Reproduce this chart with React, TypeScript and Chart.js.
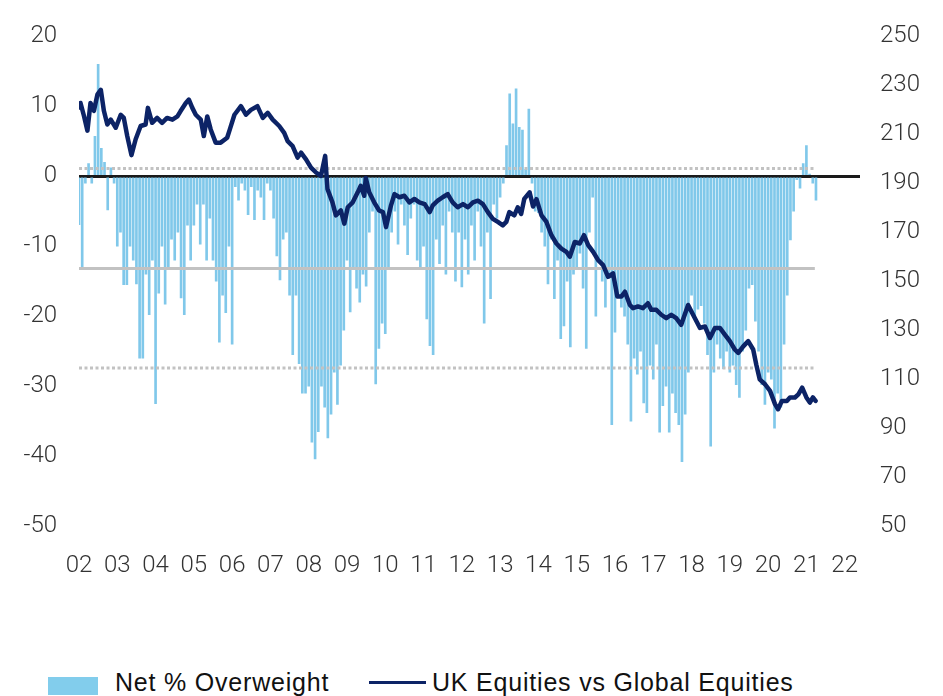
import React, { useEffect, useRef } from 'react';
import { Chart, registerables } from 'chart.js';

Chart.register(...registerables);

// ---------- Data ----------
const START_YEAR = 2002; // first monthly observation: Jan 2002
const yearLabels = ['02', '03', '04', '05', '06', '07', '08', '09', '10', '11', '12', '13', '14', '15', '16', '17', '18', '19', '20', '21', '22'];
const leftTicks = [20, 10, 0, -10, -20, -30, -40, -50];
const rightTicks = [250, 230, 210, 190, 170, 150, 130, 110, 90, 70, 50];

// Net % Overweight (monthly)
const net2002 = [-6.9, -13.3, -1, 1.8, -1, 5.7, 16, 4, 2, -4.8, 1.2, -1];
const net2003 = [-10, -8, -15.5, -15.5, -10, -12, -15.4, -26, -26, -14, -19.8, -12];
const net2004 = [-32.5, -16.7, -10, -18.3, -13, -9, -12, -8, -17.4, -19.8, -7, -12];
const net2005 = [-7, -4, -9.7, -4, -12, -6, -12, -15, -23.7, -17, -19.5, -10];
const net2006 = [-24, -1.5, -3.4, -1, -2, -5.5, -1.5, -6.2, -2, -3, -6.2, -1];
const net2007 = [-2, -6, -11.4, -14.8, -9, -8, -17, -25.5, -17, -26.8, -31, -31];
const net2008 = [-30, -38, -40.4, -36.5, -30, -33, -37.4, -34, -28, -32.6, -27, -22];
const net2009 = [-12, -19.4, -13, -16, -18, -14, -15.7, -8, -5, -29.7, -24.6, -21];
const net2010 = [-22.5, -13, -8, -5, -9.7, -4, -7, -11.2, -6, -4, -12, -13.3];
const net2011 = [-10, -20.4, -24.2, -25.5, -9, -12.5, -7, -14, -5, -8, -15, -8];
const net2012 = [-15.8, -9, -14, -7, -12, -5, -10, -21, -8, -17.5, -4, -6];
const net2013 = [-3, -1, 4.4, 11.8, 7.5, 12.5, 7, 6.6, 1, 9.6, -1, -5];
const net2014 = [-5.2, -8, -10, -15.4, -9, -17.5, -12, -23.2, -21.4, -15, -24.4, -14];
const net2015 = [-13, -11, -16, -24.6, -8, -3, -20, -12, -15, -18.7, -14, -35.5];
const net2016 = [-22.3, -17, -18.7, -20, -24, -35, -26, -28.3, -25, -32.4, -33.8, -27];
const net2017 = [-29, -24, -36.6, -32.8, -30, -36.6, -31, -33.8, -35.5, -40.8, -34, -28];
const net2018 = [-17, -20, -19, -18.5, -21, -25.5, -38.6, -28, -24, -26, -27.5, -25];
const net2019 = [-28, -27, -29.8, -31.6, -25, -22, -16, -15.5, -20.7, -25, -29.8, -32.6];
const net2020 = [-28, -29, -36, -31, -33, -24, -17, -9.1, -5, -0.5, -1.7, 1.8];
const net2021 = [4.4, 0.3, -1, -3.4];

// Reference lines on the Net % Overweight axis (average and +/- 1 s.d.)
const avgLevel = -13.2;
const upperBand = 1.1;
const lowerBand = -27.4;
const bandStart = 2002.0;
const bandEnd = 2021.22;

// UK Equities vs Global Equities: [year, index]
const uk2002to2005: [number, number][] = [
  [2002.0, 221], [2002.04, 222.8], [2002.13, 217.5], [2002.22, 211.5], [2002.3, 222.8], [2002.39, 219.6],
  [2002.48, 226.2], [2002.57, 228.2], [2002.65, 219.6], [2002.74, 214], [2002.83, 216], [2002.96, 212.7],
  [2003.09, 218], [2003.17, 216.7], [2003.26, 209.3], [2003.37, 201.5], [2003.48, 208], [2003.61, 213.4],
  [2003.74, 214], [2003.8, 220.8], [2003.91, 214.7], [2004.04, 216.7], [2004.17, 214.7], [2004.3, 216.7],
  [2004.44, 216], [2004.57, 217.3], [2004.65, 219.4], [2004.79, 222.8], [2004.87, 224.2], [2004.96, 220.8],
  [2005.05, 218], [2005.18, 216], [2005.26, 209.3], [2005.35, 217.3], [2005.44, 212], [2005.57, 206.6],
  [2005.7, 206.6], [2005.87, 208.6],
];
const uk2006to2009: [number, number][] = [
  [2005.94, 212], [2006.06, 218], [2006.23, 221.5], [2006.36, 218], [2006.49, 220], [2006.66, 221.5],
  [2006.8, 216.7], [2006.93, 218.8], [2007.06, 216], [2007.23, 213.4], [2007.36, 210.6], [2007.45, 207.2],
  [2007.58, 205.2], [2007.71, 200.5], [2007.8, 202.5], [2007.93, 199.8], [2008.06, 196.4], [2008.19, 194.4],
  [2008.32, 193], [2008.43, 201.2], [2008.49, 187.7], [2008.62, 182.2], [2008.71, 176.9], [2008.84, 178.9],
  [2008.93, 173.5], [2009.02, 180.2], [2009.15, 182.2], [2009.28, 186.3], [2009.36, 189], [2009.45, 184.9],
  [2009.49, 192.2], [2009.58, 186.3], [2009.71, 182.2], [2009.84, 178.9],
];
const uk2010to2013: [number, number][] = [
  [2009.94, 178.2], [2010.02, 172.1], [2010.15, 181], [2010.24, 185.6], [2010.37, 184.3], [2010.5, 184.9],
  [2010.63, 182.2], [2010.76, 183.6], [2010.89, 182.2], [2011.03, 181.5], [2011.16, 178.2], [2011.24, 181],
  [2011.37, 182.9], [2011.5, 184.3], [2011.63, 185.6], [2011.76, 182.2], [2011.89, 180.2], [2012.03, 181.5],
  [2012.16, 180.2], [2012.29, 182.2], [2012.42, 182.9], [2012.55, 181.5], [2012.68, 178.2], [2012.81, 175.5],
  [2012.94, 174.2], [2013.07, 172.8], [2013.16, 174.2], [2013.24, 178.2], [2013.37, 176.9], [2013.46, 180.2],
  [2013.55, 177.5], [2013.63, 183.6], [2013.77, 186.3], [2013.86, 180.5], [2013.95, 183.5],
];
const uk2014to2017: [number, number][] = [
  [2014.08, 176.9], [2014.21, 174.2], [2014.34, 168.8], [2014.47, 165.4], [2014.6, 163.3], [2014.73, 162],
  [2014.82, 160], [2014.95, 166], [2015.08, 165.4], [2015.19, 168.8], [2015.3, 164.7], [2015.43, 162],
  [2015.56, 158.6], [2015.69, 156.6], [2015.82, 151.8], [2015.95, 153.2], [2016.06, 143.8], [2016.17, 143.8],
  [2016.26, 145.7], [2016.39, 140.3], [2016.47, 139], [2016.6, 139.7], [2016.73, 139], [2016.86, 141],
  [2016.95, 138.3], [2017.08, 138.3], [2017.21, 136.3], [2017.34, 134.9], [2017.47, 136.3], [2017.6, 134.9],
  [2017.73, 132.2],
];
const uk2018to2021: [number, number][] = [
  [2017.91, 140.3], [2018.04, 136.3], [2018.22, 130.9], [2018.35, 131.5], [2018.48, 126.8], [2018.61, 130.9],
  [2018.74, 130.9], [2018.87, 128.2], [2019.0, 125.5], [2019.13, 122.1], [2019.22, 120.7], [2019.35, 123.4],
  [2019.48, 125.5], [2019.61, 122.1], [2019.69, 116], [2019.78, 109.9], [2019.92, 107.9], [2020.05, 105.2],
  [2020.18, 99.8], [2020.26, 97.7], [2020.36, 101.1], [2020.49, 101.1], [2020.57, 102.5], [2020.7, 102.5],
  [2020.79, 103.8], [2020.89, 106.5], [2021.0, 102.5], [2021.09, 100.4], [2021.17, 102.5], [2021.24, 101.1],
];

// ---------- Styles ----------
const SKY = '#80c8ea';
const SKY_LEGEND = '#82cdec';
const NAVY = '#0c2366';
const GREY = '#c2c2c2';
const TICK_FONT = "'Liberation Sans Narrow', 'Roboto', 'DejaVu Sans Condensed', sans-serif";
const LEGEND_FONT = "'Liberation Sans', Arial, sans-serif";

export default function App() {
  const ref = useRef<HTMLCanvasElement>(null);

  useEffect(() => {
    const netMonthly = [
      ...net2002, ...net2003, ...net2004, ...net2005, ...net2006, ...net2007, ...net2008,
      ...net2009, ...net2010, ...net2011, ...net2012, ...net2013, ...net2014, ...net2015,
      ...net2016, ...net2017, ...net2018, ...net2019, ...net2020, ...net2021,
    ];
    const barData = netMonthly.map((v, i) => ({ x: START_YEAR + i / 12, y: v }));
    const ukLine = [...uk2002to2005, ...uk2006to2009, ...uk2010to2013, ...uk2014to2017, ...uk2018to2021];
    const lineData = ukLine.map(([x, y]) => ({ x, y }));
    const hLine = (lvl: number) => [{ x: bandStart, y: lvl }, { x: bandEnd, y: lvl }];

    const tickFont = { family: TICK_FONT, size: 24, weight: 300 as any };

    const chart = new Chart(ref.current as HTMLCanvasElement, {
      type: 'bar',
      data: {
        datasets: [
          {
            type: 'line', label: 'UK Equities vs Global Equities', data: lineData, yAxisID: 'yR',
            borderColor: NAVY, borderWidth: 4.5, pointRadius: 0, tension: 0, order: 0,
            borderJoinStyle: 'round', borderCapStyle: 'round',
          } as any,
          {
            type: 'line', label: 'Average', data: hLine(avgLevel), yAxisID: 'y',
            borderColor: GREY, borderWidth: 3, pointRadius: 0, order: 1,
          } as any,
          {
            type: 'line', label: '+1sd', data: hLine(upperBand), yAxisID: 'y',
            borderColor: GREY, borderWidth: 3, borderDash: [3, 2.5], pointRadius: 0, order: 1,
          } as any,
          {
            type: 'line', label: '-1sd', data: hLine(lowerBand), yAxisID: 'y',
            borderColor: GREY, borderWidth: 3, borderDash: [3, 2.5], pointRadius: 0, order: 1,
          } as any,
          {
            type: 'bar', label: 'Net % Overweight', data: barData, yAxisID: 'y',
            backgroundColor: SKY, barThickness: 2, order: 2,
          } as any,
        ],
      },
      options: {
        responsive: false,
        animation: false,
        layout: { padding: { top: 33, bottom: 14, left: 0, right: 0 } },
        plugins: { legend: { display: false }, tooltip: { enabled: false } },
        scales: {
          x: {
            type: 'linear', min: 2002, max: 2022.4, offset: false,
            grid: { display: false }, border: { display: false },
            ticks: {
              stepSize: 1, includeBounds: false, autoSkip: false, maxRotation: 0, minRotation: 0,
              padding: 18, font: tickFont, color: '#333',
              callback: (v: any) => {
                const idx = Math.round(Number(v)) - START_YEAR;
                return Math.abs(Number(v) - Math.round(Number(v))) < 1e-6 && yearLabels[idx] ? yearLabels[idx] : '';
              },
            },
            afterFit: (s: any) => { s.height = 60; },
          },
          y: {
            type: 'linear', position: 'left', min: -50, max: 20,
            border: { display: false },
            grid: {
              drawTicks: false,
              color: (ctx: any) => (ctx.tick && ctx.tick.value === 0 ? '#1a1a1a' : 'rgba(0,0,0,0)'),
              lineWidth: 3,
            },
            ticks: {
              stepSize: 10, padding: 22, font: tickFont, color: '#333',
              callback: (v: any) => (leftTicks.includes(Number(v)) ? String(v) : ''),
            },
            afterFit: (s: any) => { s.width = 79; },
          },
          yR: {
            type: 'linear', position: 'right', min: 50, max: 250,
            border: { display: false },
            grid: { display: false, drawTicks: false },
            ticks: {
              stepSize: 20, padding: 20, font: tickFont, color: '#333',
              callback: (v: any) => (rightTicks.includes(Number(v)) ? String(v) : ''),
            },
            afterFit: (s: any) => { s.width = 83; },
          },
        },
      } as any,
    });
    return () => chart.destroy();
  }, []);

  const legendText: React.CSSProperties = {
    position: 'absolute', top: 670, font: `25px ${LEGEND_FONT}`, lineHeight: '25px',
    letterSpacing: '0.8px', color: '#111', whiteSpace: 'nowrap',
  };

  return (
    <div style={{ position: 'absolute', left: 0, top: 0, width: 943, height: 696, background: '#fff', overflow: 'hidden' }}>
      <canvas ref={ref} width={943} height={600} style={{ position: 'absolute', left: 0, top: 0, width: 943, height: 600 }} />
      <div style={{ position: 'absolute', left: 48, top: 677, width: 50, height: 18, background: SKY_LEGEND }} />
      <span style={{ ...legendText, left: 115 }}>Net % Overweight</span>
      <div style={{ position: 'absolute', left: 369, top: 681, width: 57, height: 3, background: NAVY }} />
      <span style={{ ...legendText, left: 432 }}>UK Equities vs Global Equities</span>
    </div>
  );
}
